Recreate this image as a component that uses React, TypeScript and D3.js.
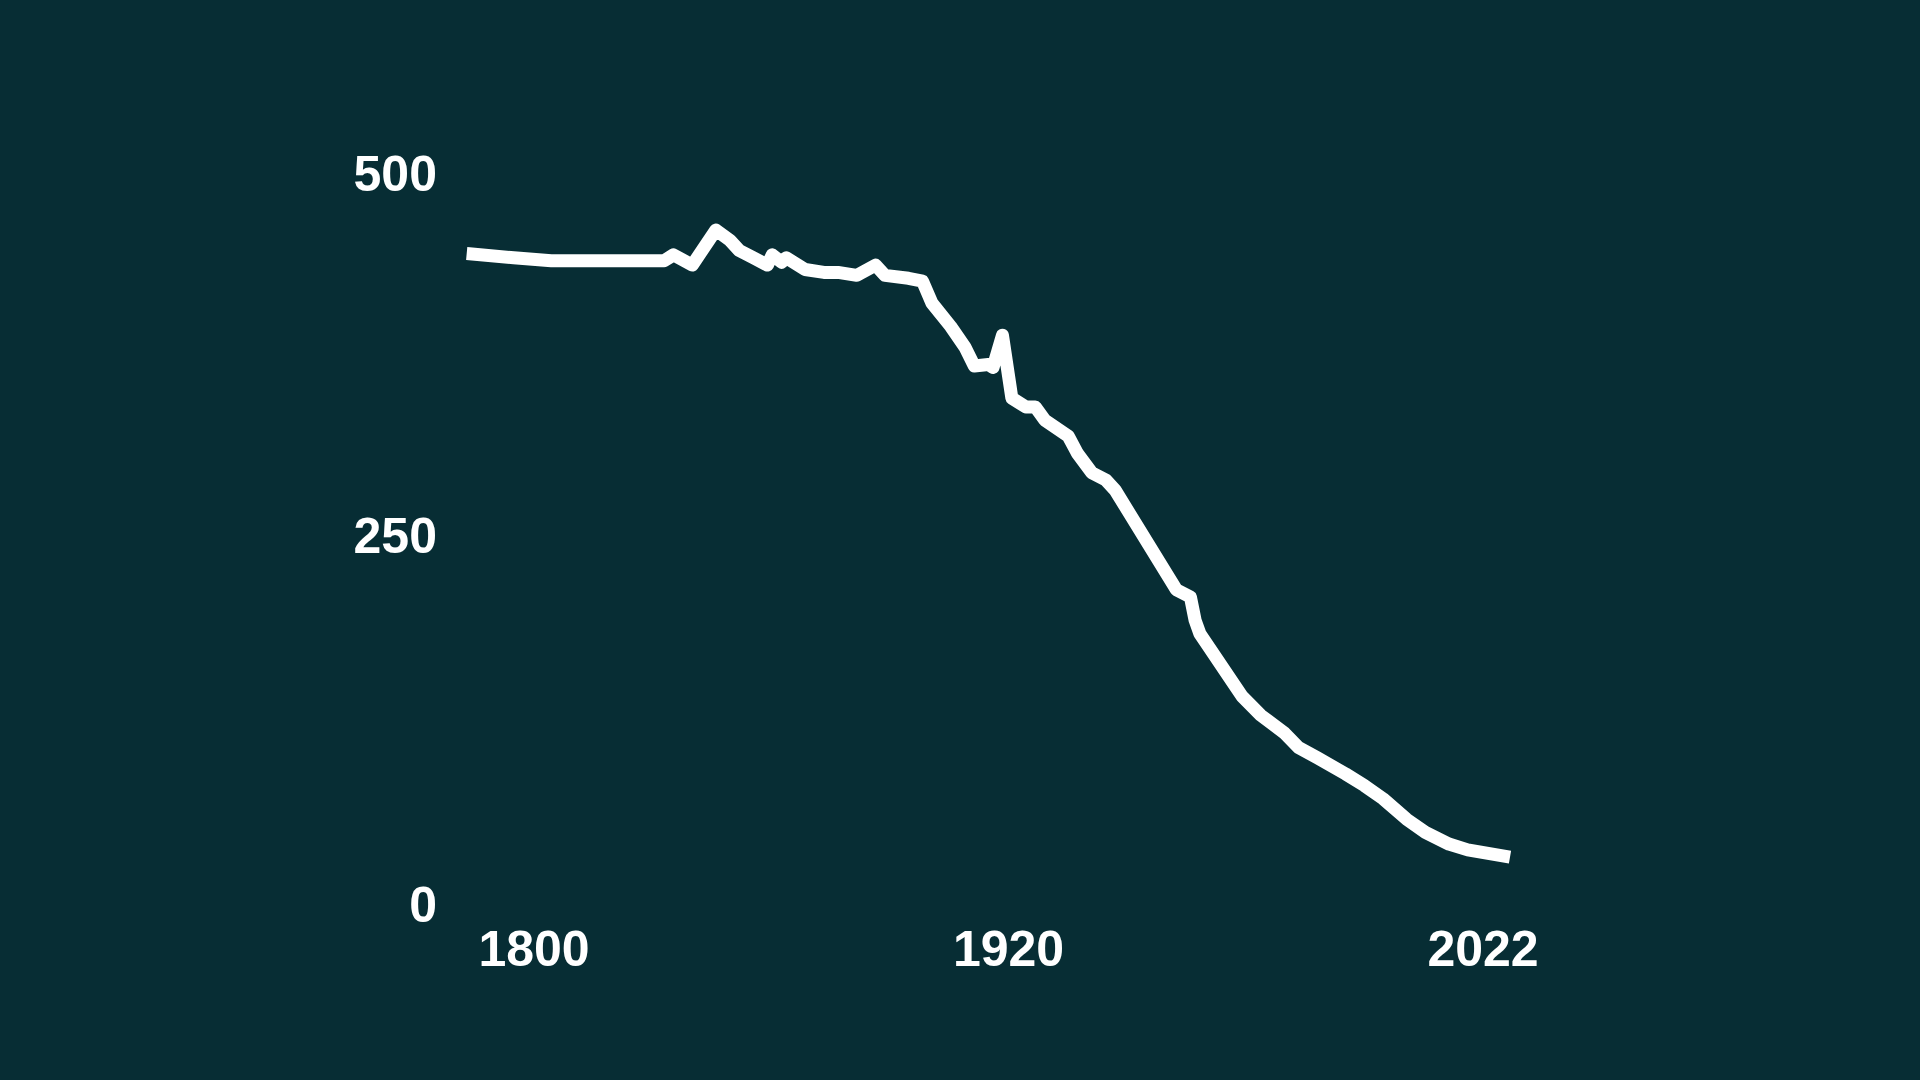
import React from "react";
import * as d3 from "d3";

const years = [
  1800, 1810, 1818, 1831, 1842, 1844, 1848, 1853, 1856, 1858, 1861, 1864, 1865, 1867, 1868, 1872, 1876, 1879, 1883,
  1887, 1889, 1894, 1897, 1899, 1903, 1906, 1908, 1911, 1912, 1914, 1916, 1919, 1921, 1923, 1928, 1930, 1933,
  1936, 1938, 1951, 1954, 1955, 1956, 1965, 1969, 1974, 1977, 1981, 1987, 1991, 1995, 2000, 2004, 2009, 2013, 2022,
];
const values = [
  445, 442, 440, 440, 440, 444, 437, 461, 454, 447, 442, 437, 444, 439, 442, 434, 432, 432, 430,
  437, 430, 428, 426, 411, 395, 381, 368, 369, 367, 389, 346, 340, 340, 331, 320, 308, 295,
  290, 283, 215, 210, 194, 185, 142, 129, 117, 107, 100, 89, 81, 72, 58, 49, 41, 37, 32,
];
const yTicks = [0, 250, 500];
const xTickLabels = ["1800", "1920", "2022"];

const W = 1920;
const H = 1080;
const BG = "#072d34";
const FONT = "'Liberation Sans', Arial, Helvetica, sans-serif";

export default function App() {
  const x = d3.scaleLinear().domain([1800, 2022]).range([466.7, 1510]);
  const y = d3.scaleLinear().domain([0, 500]).range([904, 173]);
  const xLab = d3.scalePoint<string>().domain(xTickLabels).range([534, 1483]);

  const data = years.map((yr, i) => ({ yr, v: values[i] }));
  const line = d3
    .line<{ yr: number; v: number }>()
    .x((d) => x(d.yr))
    .y((d) => y(d.v))
    .curve(d3.curveLinear);

  return (
    <svg
      width={W}
      height={H}
      style={{ position: "absolute", left: 0, top: 0, display: "block" }}
    >
      <rect x={0} y={0} width={W} height={H} fill={BG} />
      {yTicks.map((t) => (
        <text
          key={t}
          x={437}
          y={y(t) + 18 - (t === 250 ? 4 : 0)}
          textAnchor="end"
          fill="#ffffff"
          fontFamily={FONT}
          fontWeight={700}
          fontSize={50}
        >
          {t}
        </text>
      ))}
      {xTickLabels.map((t) => (
        <text
          key={t}
          x={xLab(t)}
          y={966}
          textAnchor="middle"
          fill="#ffffff"
          fontFamily={FONT}
          fontWeight={700}
          fontSize={50}
        >
          {t}
        </text>
      ))}
      <path
        d={line(data) || ""}
        fill="none"
        stroke="#ffffff"
        strokeWidth={13}
        strokeLinejoin="round"
        strokeLinecap="butt"
      />
    </svg>
  );
}
